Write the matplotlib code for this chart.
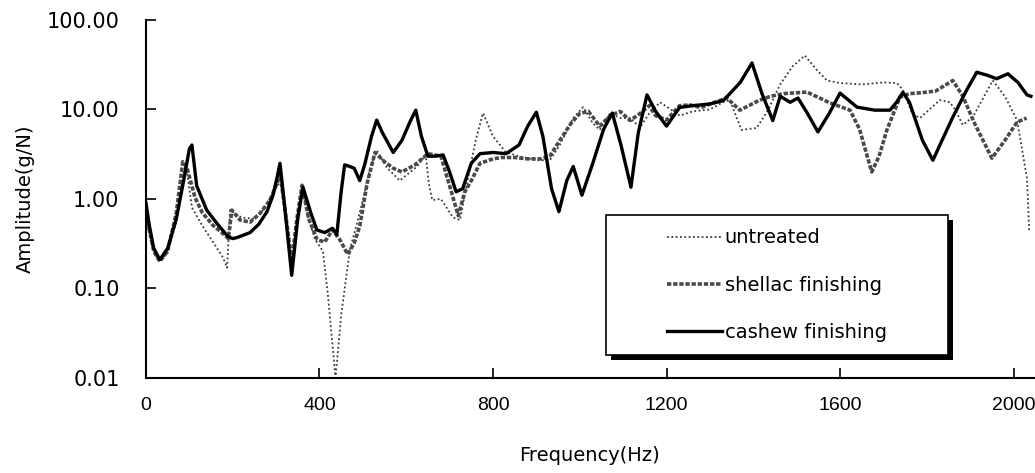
import numpy as np
import matplotlib
matplotlib.use("Agg")
import matplotlib.pyplot as plt
from matplotlib.patches import Rectangle

plt.rcParams['font.family'] = ['DejaVu Sans']

# frequency response curves (Hz, g/N)
untreated_f = [0, 8, 18, 32, 50, 70, 85, 92, 100, 106, 130, 148, 178, 187, 194, 220, 250, 270,
               295, 310, 320, 335, 348, 360, 375, 390, 408, 420, 437, 450, 470, 485, 500, 515,
               527, 532, 555, 585, 625, 645, 652, 660, 680, 708, 724, 740, 760, 777, 800, 830,
               860, 900, 931, 954, 985, 1008, 1030, 1046, 1070, 1093, 1116, 1139, 1160, 1185,
               1210, 1231, 1260, 1300, 1330, 1346, 1362, 1373, 1408, 1435, 1461, 1490, 1519,
               1545, 1570, 1600, 1650, 1700, 1731, 1745, 1766, 1784, 1830, 1853, 1865, 1883,
               1906, 1952, 1980, 2008, 2031, 2036]
untreated_a = [0.6, 0.4, 0.25, 0.2, 0.25, 0.55, 1.8, 2.4, 1.3, 0.8, 0.5, 0.37, 0.22, 0.17, 0.75,
               0.62, 0.6, 0.75, 1.2, 1.6, 0.7, 0.18, 0.55, 1.42, 0.6, 0.35, 0.26, 0.08, 0.01,
               0.05, 0.27, 0.5, 0.97, 2.0, 3.1, 3.5, 2.25, 1.6, 2.3, 3.1, 1.5, 0.97, 1.0, 0.62,
               0.58, 1.5, 4.5, 9.1, 5.0, 3.3, 3.0, 2.7, 2.7, 4.0, 8.0, 10.6, 7.0, 5.9, 9.1, 8.0,
               8.0, 6.3, 9.0, 12, 10, 8.5, 9.5, 10, 12, 12.7, 8, 5.9, 6.2, 10, 18.7, 30, 40,
               28, 21, 19.7, 19, 20, 19.7, 16.5, 9, 8, 12.7, 12, 10, 6.7, 8.2, 21, 14, 7.6,
               1.7, 0.44]

shellac_f = [0, 8, 18, 32, 50, 70, 85, 95, 113, 130, 154, 175, 190, 198, 217, 240, 263, 286,
             302, 309, 320, 336, 348, 360, 375, 395, 412, 430, 447, 465, 480, 493, 510, 528,
             550, 570, 590, 620, 650, 680, 700, 720, 735, 750, 770, 800, 820, 850, 880, 910,
             931, 954, 980, 1000, 1020, 1046, 1070, 1093, 1116, 1139, 1160, 1175, 1200, 1230,
             1254, 1280, 1307, 1339, 1369, 1415, 1440, 1470, 1524, 1577, 1623, 1645, 1673,
             1690, 1708, 1738, 1760, 1784, 1820, 1860, 1883, 1910, 1950, 1980, 2008, 2030]
shellac_a = [0.75, 0.45, 0.26, 0.2, 0.26, 0.7, 2.6, 2.2, 1.04, 0.7, 0.51, 0.42, 0.36, 0.75,
             0.58, 0.55, 0.69, 0.97, 1.5, 1.9, 0.8, 0.2, 0.6, 1.42, 0.6, 0.35, 0.33, 0.45,
             0.35, 0.24, 0.32, 0.5, 1.5, 3.3, 2.6, 2.2, 2.0, 2.4, 3.2, 3.0, 1.4, 0.65, 1.2,
             1.6, 2.5, 2.8, 2.9, 2.9, 2.8, 2.8, 3.0, 4.5, 7.0, 9.0, 9.5, 6.5, 8.5, 9.5, 7.5,
             9.0, 11, 8.5, 7.6, 11, 11.2, 10.5, 11.8, 13.4, 9.8, 12.7, 14, 15, 15.6, 11.8,
             9.8, 6, 2.0, 3.0, 5.9, 13.7, 15, 15.3, 16, 21, 14, 7, 2.85, 4.5, 7.2, 8]

cashew_f = [0, 8, 18, 32, 50, 70, 88, 100, 106, 117, 140, 164, 189, 200, 210, 240, 260, 279,
            293, 303, 309, 318, 336, 350, 362, 380, 394, 412, 430, 440, 450, 458, 470, 480,
            493, 505, 520, 532, 545, 570, 590, 610, 622, 635, 650, 668, 685, 700, 715, 730,
            750, 770, 800, 830, 860, 880, 900, 915, 935, 952, 970, 985, 1005, 1030, 1055,
            1075, 1095, 1118, 1135, 1155, 1175, 1200, 1230, 1260, 1300, 1330, 1346, 1370,
            1397, 1420, 1445, 1462, 1485, 1503, 1525, 1549, 1575, 1600, 1639, 1680, 1715,
            1730, 1745, 1760, 1790, 1814, 1835, 1860, 1892, 1915, 1940, 1961, 1987, 2010,
            2031, 2040]
cashew_a = [0.9, 0.5, 0.28, 0.21, 0.28, 0.6, 1.7, 3.6, 4.0, 1.4, 0.75, 0.53, 0.38, 0.36, 0.37,
            0.42, 0.52, 0.72, 1.1, 1.8, 2.5, 1.0, 0.14, 0.6, 1.35, 0.7, 0.45, 0.42, 0.47, 0.4,
            1.2, 2.4, 2.3, 2.2, 1.6, 2.5, 5, 7.6, 5.5, 3.3, 4.5, 7.5, 9.8, 5.0, 3.0, 3.0, 3.1,
            2.0, 1.2, 1.3, 2.5, 3.2, 3.3, 3.2, 4.0, 6.5, 9.3, 5.0, 1.3, 0.72, 1.6, 2.3, 1.1,
            2.5, 6.0, 9.1, 4.0, 1.35, 5.5, 14.5, 9.5, 6.5, 10.5, 11, 11.5, 12.5, 15, 20, 33,
            15, 7.5, 14, 12, 13.4, 9, 5.6, 9, 15.2, 10.6, 9.8, 9.8, 12, 15.5, 12, 4.5, 2.7,
            4.5, 8.2, 16.5, 26, 24, 22, 25, 20, 14.5, 14]

x_ticks = [0, 400, 800, 1200, 1600, 2000]
y_ticks = [0.01, 0.1, 1, 10, 100]

fig = plt.figure(figsize=(10.35, 4.73), dpi=100)
ax = fig.add_axes([0.141, 0.201, 0.858, 0.757])

ax.plot(untreated_f, untreated_a, color='#3a3a3a', lw=1.3, ls=(0, (1, 1.4)),
        label='untreated')
ax.plot(shellac_f, shellac_a, color='#4a4a4a', lw=2.6, ls=(0, (1.2, 0.5)),
        label='shellac finishing')
ax.plot(cashew_f, cashew_a, color='black', lw=2.4, label='cashew finishing')

ax.set_yscale('log')
ax.set_xlim(0, 2047)
ax.set_ylim(0.01, 100)
ax.set_xticks(x_ticks)
ax.set_xticklabels([str(v) for v in x_ticks], fontfamily='Liberation Sans', fontsize=14)
ax.set_yticks(y_ticks)
ax.set_yticklabels(['%.2f' % v for v in y_ticks], fontsize=15)
ax.minorticks_off()
ax.tick_params(direction='in', length=7, width=1.2)
ax.tick_params(axis='y', pad=19)
ax.tick_params(axis='x', pad=14)
for s in ['top', 'right']:
    ax.spines[s].set_visible(False)
for s in ['left', 'bottom']:
    ax.spines[s].set_linewidth(1.5)

ax.set_ylabel('Amplitude(g/N)', fontsize=14)
ax.set_xlabel('Frequency(Hz)', fontsize=14)
ax.yaxis.set_label_coords(-0.125, 0.5)
ax.xaxis.set_label_coords(0.5, -0.19)

# legend box with a solid drop shadow
x0, y0, w, h = 0.518, 0.064, 0.385, 0.391
ax.add_patch(Rectangle((x0 + 0.0056, y0 - 0.014), w, h, transform=ax.transAxes,
                       facecolor='black', edgecolor='none', zorder=5))
ax.add_patch(Rectangle((x0, y0), w, h, transform=ax.transAxes,
                       facecolor='white', edgecolor='black', lw=1.2, zorder=6))
leg = ax.legend(loc='center', bbox_to_anchor=(x0 + w / 2, y0 + h / 2), frameon=False,
                fontsize=14, labelspacing=1.45, handlelength=2.8, handletextpad=0.15)
leg.set_zorder(7)

fig.savefig('out.png', dpi=100, facecolor='white')
